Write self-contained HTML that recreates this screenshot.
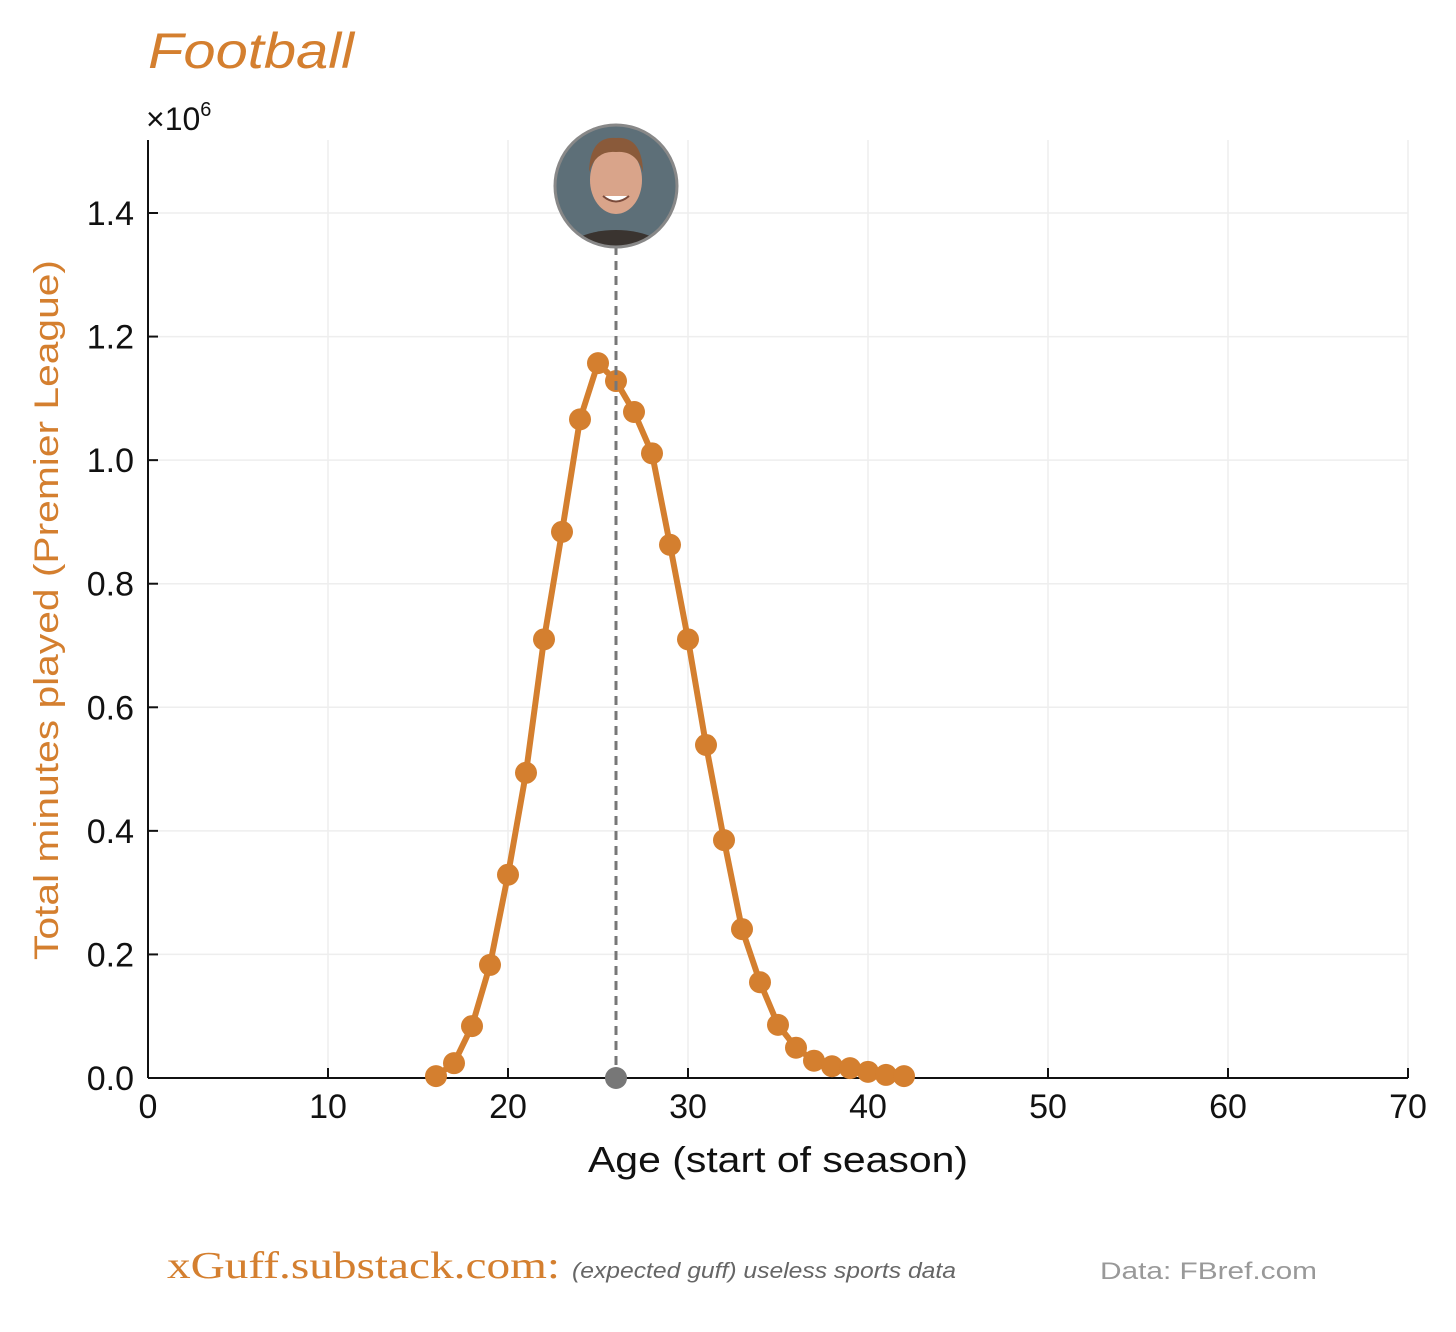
<!DOCTYPE html>
<html><head><meta charset="utf-8"><style>
body{margin:0;background:#fff;}
svg text{font-family:"Liberation Sans","DejaVu Sans",sans-serif;}
</style></head><body>
<svg id="chart" width="1456" height="1327" viewBox="0 0 1456 1327" xmlns="http://www.w3.org/2000/svg">
<defs><clipPath id="avclip"><circle cx="616" cy="186" r="60"/></clipPath></defs>
<rect width="1456" height="1327" fill="#fff"/>
<text x="148" y="68" font-size="50" font-style="italic" fill="#d47f2f" textLength="206" lengthAdjust="spacingAndGlyphs">Football</text>
<text x="146" y="130" font-size="32" fill="#111">×10<tspan font-size="20" dy="-14">6</tspan></text>
<g id="grid"></g>
<g id="axes"></g>
<g id="series"></g>
<text transform="translate(58,610) rotate(-90)" text-anchor="middle" font-size="34" fill="#d47f2f" textLength="700" lengthAdjust="spacingAndGlyphs">Total minutes played (Premier League)</text>
<text x="778" y="1172" text-anchor="middle" font-size="36" fill="#111" textLength="380" lengthAdjust="spacingAndGlyphs">Age (start of season)</text>
<text x="167" y="1278" font-size="38" fill="#d47f2f" style="font-family:'Liberation Serif',serif" textLength="393" lengthAdjust="spacingAndGlyphs">xGuff.substack.com:</text>
<text x="572" y="1278" font-size="22" font-style="italic" fill="#666" textLength="384" lengthAdjust="spacingAndGlyphs">(expected guff) useless sports data</text>
<text x="1100" y="1279" font-size="24" fill="#999" textLength="217" lengthAdjust="spacingAndGlyphs">Data:  FBref.com</text>
</svg>
<script>
const ages=[16,17,18,19,20,21,22,23,24,25,26,27,28,29,30,31,32,33,34,35,36,37,38,39,40,41,42];
const minutes=[0.003,0.024,0.084,0.183,0.329,0.494,0.710,0.884,1.066,1.157,1.128,1.078,1.011,0.863,0.710,0.539,0.385,0.241,0.155,0.086,0.049,0.028,0.019,0.016,0.010,0.005,0.003];
const xTicks=[0,10,20,30,40,50,60,70];
const yTicks=[0.0,0.2,0.4,0.6,0.8,1.0,1.2,1.4];
const markerAge=26;
const NS="http://www.w3.org/2000/svg";
const X=v=>148+(v-0)*(1260/70);
const Y=v=>1078-v*(865/1.4);
function mk(t,a,p){const e=document.createElementNS(NS,t);for(const k in a)e.setAttribute(k,a[k]);p.appendChild(e);return e;}
const grid=document.getElementById('grid'),axes=document.getElementById('axes'),ser=document.getElementById('series');
xTicks.forEach(t=>{
 if(t>0){const g=mk('line',{x1:X(t),x2:X(t),y1:140,y2:1078,stroke:'#eee','stroke-width':1.5},grid);
 
 }
 const tk=mk('line',{x1:X(t),x2:X(t),y1:1078,y2:1068,stroke:'#111','stroke-width':2},axes);
 
 
 const l=mk('text',{x:X(t),y:1118,'text-anchor':'middle','font-size':34,fill:'#111'},axes);l.textContent=t;
 
 
});
yTicks.forEach(t=>{
 if(t>0){const g=mk('line',{x1:148,x2:1408,y1:Y(t),y2:Y(t),stroke:'#eee','stroke-width':1.5},grid);
 
 }
 const tk=mk('line',{x1:148,x2:158,y1:Y(t),y2:Y(t),stroke:'#111','stroke-width':2},axes);
 
 
 const l=mk('text',{x:134,y:Y(t)+12,'text-anchor':'end','font-size':34,fill:'#111'},axes);l.textContent=t.toFixed(1);
 
 
});
const ls=mk('line',{x1:148,x2:148,y1:140,y2:1078,stroke:'#111','stroke-width':2},axes);


const bs=mk('line',{x1:148,x2:1408,y1:1078,y2:1078,stroke:'#111','stroke-width':2},axes);


const line=mk('polyline',{points:ages.map((a,i)=>X(a)+','+Y(minutes[i])).join(' '),fill:'none',stroke:'#d47f2f','stroke-width':6,'stroke-linejoin':'round'},ser);


ages.forEach((a,i)=>{const c=mk('circle',{cx:X(a),cy:Y(minutes[i]),r:11,fill:'#d47f2f'},ser);
 
 });
const mx=X(markerAge);
const dl=mk('line',{x1:mx,x2:mx,y1:246,y2:1078,stroke:'#777','stroke-width':3,'stroke-dasharray':'9,6'},ser);


const dd=mk('circle',{cx:mx,cy:1078,r:11,fill:'#777'},ser);


const av=mk('g',{},ser);


mk('circle',{cx:mx,cy:186,r:61,fill:'#5d6f78'},av);
const inner=mk('g',{'clip-path':'url(#avclip)'},av);
mk('ellipse',{cx:mx,cy:258,rx:55,ry:28,fill:'#3a3430'},inner);
mk('ellipse',{cx:mx,cy:180,rx:26,ry:34,fill:'#d9a48a'},inner);
mk('path',{d:`M${mx-27},172 Q${mx-26},136 ${mx},138 Q${mx+26},136 ${mx+27},172 Q${mx+20},150 ${mx},152 Q${mx-20},150 ${mx-27},172Z`,fill:'#8a5a3a'},inner);
mk('path',{d:`M${mx-13},196 Q${mx},207 ${mx+13},196`,fill:'#fff',stroke:'#7a4a3a','stroke-width':2},inner);
mk('circle',{cx:mx,cy:186,r:61,fill:'none',stroke:'#888','stroke-width':3},av);
</script>
</body></html>
